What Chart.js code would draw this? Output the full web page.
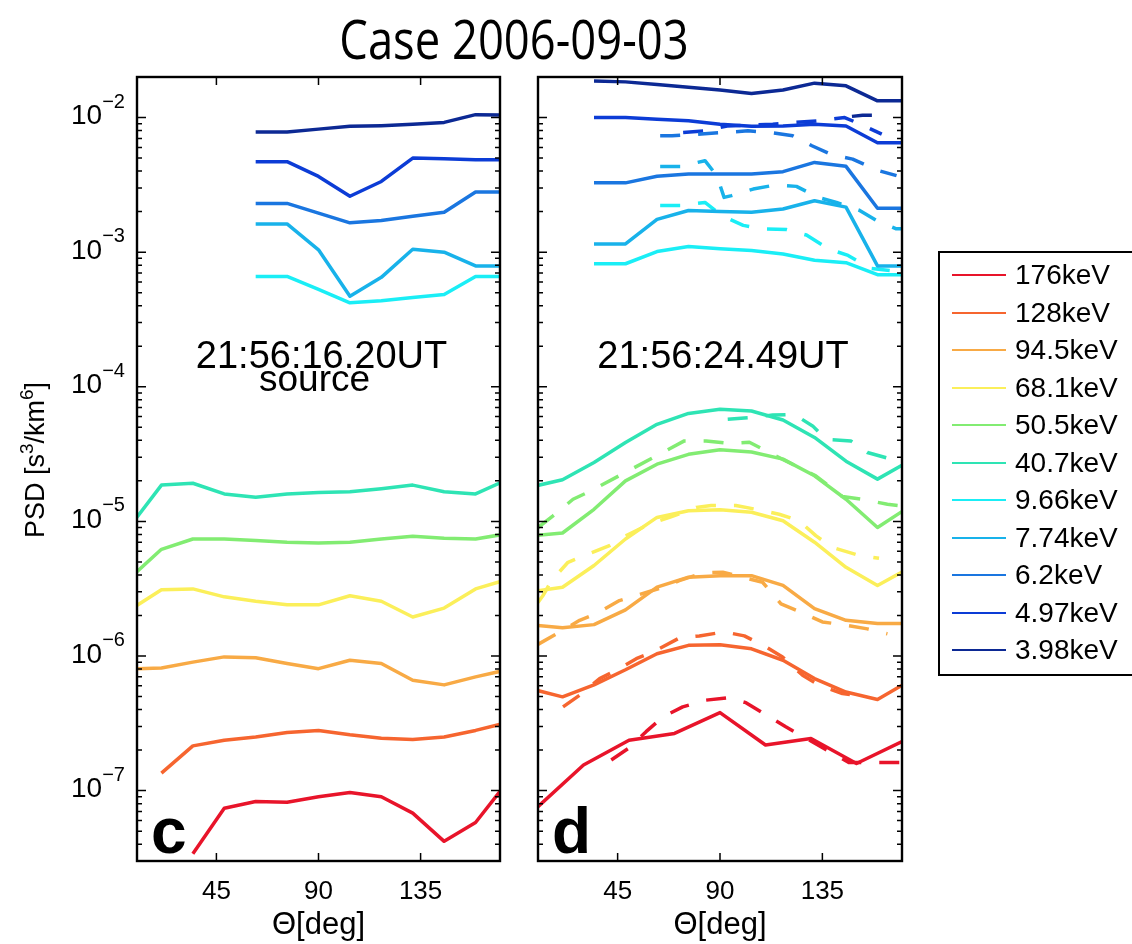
<!DOCTYPE html>
<html>
<head>
<meta charset="utf-8">
<script src="https://cdn.jsdelivr.net/npm/chart.js@4.4.1/dist/chart.umd.min.js"></script>
<style>
  body { margin: 0; background: #fff; width: 1132px; height: 944px; overflow: hidden; position: relative; font-family: "Liberation Sans", Arial, sans-serif; }
  #title { position: absolute; left: 0; width: 1028px; top: 8px; text-align: center; font-size: 54px; line-height: 60px; font-family: "Open Sans", sans-serif; transform: scaleX(0.84); transform-origin: 514px 0; }
  canvas { position: absolute; top: 0; }
  #legend { position: absolute; left: 938px; top: 251px; width: 230px; height: 425px; border: 2px solid #000; box-sizing: border-box; }
  .row { position: absolute; left: 12px; height: 38px; line-height: 38px; font-size: 28px; white-space: nowrap; padding-left: 63px; }
  .row span { position: absolute; left: 0; top: 18px; width: 54px; height: 2px; }
</style>
</head>
<body>
<div id="title">Case 2006-09-03</div>
<canvas id="panelC" width="520" height="944" style="left:0"></canvas>
<canvas id="panelD" width="420" height="944" style="left:520px"></canvas>
<div id="legend"></div>
<script>
// energy channels, same order as the legend
const energies = ["176keV", "128keV", "94.5keV", "68.1keV", "50.5keV", "40.7keV",
                  "9.66keV", "7.74keV", "6.2keV", "4.97keV", "3.98keV"];
const lineColors = ["#e8142a", "#f6652f", "#f8aa45", "#fbef5a", "#82ec72", "#2ee4b4",
                    "#1aeef6", "#18b2ea", "#1a76e0", "#0c3cd6", "#0c2994"];

// pitch angle bins (deg)
const angles13 = [6.92, 20.77, 34.62, 48.46, 62.31, 76.15, 90, 103.85, 117.69, 131.54, 145.38, 159.23, 173.08];
const angles9 = [10, 30, 50, 70, 90, 110, 130, 150, 170];

// axis ticks
const xTicks = [45, 90, 135];
const yTickExps = [-7, -6, -5, -4, -3, -2];
const yMin = 3.1e-8, yMax = 2.0e-2;

// panel c : source, 21:56:16.20UT
const c176 = [null, null, 3.4e-8, 7.4e-8, 8.3e-8, 8.2e-8, 9.0e-8, 9.7e-8, 9.0e-8, 6.8e-8, 4.2e-8, 5.8e-8, 1.15e-7];
const c128 = [null, 1.35e-7, 2.15e-7, 2.37e-7, 2.5e-7, 2.7e-7, 2.8e-7, 2.6e-7, 2.45e-7, 2.4e-7, 2.5e-7, 2.8e-7, 3.2e-7];
const c94 = [8.0e-7, 8.15e-7, 9.0e-7, 9.85e-7, 9.7e-7, 8.8e-7, 8.05e-7, 9.3e-7, 8.8e-7, 6.6e-7, 6.1e-7, 7.0e-7, 7.9e-7];
const c68 = [2.2e-6, 3.1e-6, 3.15e-6, 2.75e-6, 2.55e-6, 2.4e-6, 2.4e-6, 2.8e-6, 2.55e-6, 1.95e-6, 2.27e-6, 3.15e-6, 3.7e-6];
const c50 = [3.8e-6, 6.2e-6, 7.4e-6, 7.4e-6, 7.2e-6, 7.0e-6, 6.9e-6, 7.0e-6, 7.4e-6, 7.75e-6, 7.5e-6, 7.4e-6, 8.1e-6];
const c40 = [9.2e-6, 1.86e-5, 1.92e-5, 1.6e-5, 1.51e-5, 1.6e-5, 1.64e-5, 1.66e-5, 1.75e-5, 1.86e-5, 1.66e-5, 1.6e-5, 2.04e-5];
const c966 = [null, null, null, null, 6.6e-4, 6.6e-4, 5.3e-4, 4.2e-4, 4.35e-4, 4.6e-4, 4.85e-4, 6.6e-4, 6.6e-4];
const c774 = [null, null, null, null, 1.62e-3, 1.62e-3, 1.04e-3, 4.7e-4, 6.5e-4, 1.05e-3, 1.0e-3, 7.9e-4, 7.9e-4];
const c62 = [null, null, null, null, 2.3e-3, 2.3e-3, 1.95e-3, 1.65e-3, 1.72e-3, 1.85e-3, 1.98e-3, 2.8e-3, 2.8e-3];
const c497 = [null, null, null, null, 4.7e-3, 4.7e-3, 3.65e-3, 2.6e-3, 3.35e-3, 5.0e-3, 4.95e-3, 4.85e-3, 4.85e-3];
const c398 = [null, null, null, null, 7.8e-3, 7.8e-3, 8.2e-3, 8.6e-3, 8.7e-3, 8.9e-3, 9.2e-3, 1.05e-2, 1.04e-2];

// panel d : measured, 21:56:24.49UT (176keV uses the 9 bins)
const d176 = [7.6e-8, 1.55e-7, 2.37e-7, 2.66e-7, 3.8e-7, 2.18e-7, 2.44e-7, 1.59e-7, 2.31e-7];
const d128 = [5.7e-7, 4.97e-7, 6.1e-7, 7.9e-7, 1.04e-6, 1.2e-6, 1.21e-6, 1.13e-6, 9.3e-7, 6.8e-7, 5.4e-7, 4.75e-7, 6.5e-7];
const d94 = [1.7e-6, 1.62e-6, 1.71e-6, 2.2e-6, 3.25e-6, 3.85e-6, 3.95e-6, 3.95e-6, 3.35e-6, 2.25e-6, 1.84e-6, 1.74e-6, 1.74e-6];
const d68 = [3.0e-6, 3.24e-6, 4.7e-6, 7.4e-6, 1.07e-5, 1.2e-5, 1.22e-5, 1.17e-5, 1.01e-5, 7.0e-6, 4.56e-6, 3.34e-6, 4.5e-6];
const d50 = [7.8e-6, 8.2e-6, 1.23e-5, 2.0e-5, 2.66e-5, 3.15e-5, 3.4e-5, 3.28e-5, 2.9e-5, 2.18e-5, 1.46e-5, 9.0e-6, 1.28e-5];
const d40 = [1.8e-5, 2.04e-5, 2.74e-5, 3.85e-5, 5.26e-5, 6.34e-5, 6.8e-5, 6.6e-5, 5.66e-5, 4.2e-5, 2.8e-5, 2.06e-5, 2.8e-5];
const d966 = [null, null, 8.2e-4, 8.2e-4, 1.01e-3, 1.1e-3, 1.06e-3, 1.03e-3, 9.7e-4, 8.7e-4, 8.35e-4, 6.8e-4, 6.8e-4];
const d774 = [null, null, 1.15e-3, 1.15e-3, 1.75e-3, 2.04e-3, 2.0e-3, 1.98e-3, 2.09e-3, 2.41e-3, 2.16e-3, 7.9e-4, 7.9e-4];
const d62 = [null, null, 3.27e-3, 3.27e-3, 3.66e-3, 3.8e-3, 3.8e-3, 3.8e-3, 3.96e-3, 4.64e-3, 4.34e-3, 2.12e-3, 2.12e-3];
const d497 = [null, null, 1.0e-2, 1.0e-2, 9.7e-3, 9.45e-3, 8.9e-3, 8.6e-3, 8.65e-3, 8.9e-3, 8.65e-3, 6.5e-3, 6.5e-3];
const d398 = [null, null, 1.87e-2, 1.84e-2, 1.76e-2, 1.68e-2, 1.6e-2, 1.51e-2, 1.6e-2, 1.8e-2, 1.72e-2, 1.33e-2, 1.33e-2];

// panel d dashed curves (angles)
const mAng176 = [42.2, 49.7, 57.5, 64.9, 73.6, 83.9, 93.4, 101.4, 118.9, 146.6, 155.4, 170];
const m176 = [1.69e-7, 2.06e-7, 2.74e-7, 3.53e-7, 4.19e-7, 4.7e-7, 4.9e-7, 4.5e-7, 2.98e-7, 1.62e-7, 1.62e-7, 1.62e-7];
const mAng128 = [21.0, 28.3, 37.1, 44.4, 53.2, 60.5, 72.1, 80.9, 91.9, 100.7, 110.2, 117.5, 126.3, 133.6, 143.8, 151.8];
const m128 = [4.19e-7, 5.12e-7, 6.79e-7, 7.83e-7, 9.55e-7, 1.07e-6, 1.36e-6, 1.41e-6, 1.51e-6, 1.41e-6, 1.17e-6, 9.84e-7, 7.2e-7, 6.07e-7, 5.26e-7, 5.06e-7];
const mAng94 = [10, 18.1, 28.3, 35.6, 45.8, 53.2, 64.9, 72.1, 82.4, 91.2, 108.7, 116.8, 125.5, 135.0, 143.8, 154.8, 163.6];
const m94 = [1.22e-6, 1.46e-6, 1.84e-6, 2.06e-6, 2.58e-6, 2.81e-6, 3.24e-6, 3.63e-6, 4.14e-6, 4.19e-6, 3.53e-6, 2.44e-6, 2.12e-6, 1.79e-6, 1.71e-6, 1.59e-6, 1.46e-6];
const mAng68 = [10, 12.2, 15.9, 23.2, 31.2, 41.4, 48.8, 59.0, 67.8, 79.5, 86.1, 97.0, 105.8, 116.0, 124.8, 132.1, 139.4, 150.4, 159.9];
const m68 = [2.5e-6, 2.81e-6, 3.63e-6, 4.97e-6, 5.63e-6, 6.6e-6, 7.83e-6, 9.55e-6, 1.07e-5, 1.27e-5, 1.31e-5, 1.31e-5, 1.23e-5, 1.13e-5, 1.01e-5, 7.83e-6, 6.41e-6, 5.63e-6, 5.32e-6];
const mAng50 = [10, 16.6, 25.4, 33.4, 74.3, 83.9, 94.1, 102.9, 114.6, 132.1, 143.8, 153.3, 163.6, 170];
const m50 = [9.0e-6, 1.1e-5, 1.46e-5, 1.69e-5, 3.96e-5, 3.96e-5, 3.8e-5, 3.87e-5, 3.06e-5, 2.18e-5, 1.53e-5, 1.45e-5, 1.34e-5, 1.3e-5];
const mAng40 = [93.4, 102.9, 113.1, 122.6, 130.7, 136.5, 147.5, 154.8, 164.3, 170];
const m40 = [5.73e-5, 5.89e-5, 6.16e-5, 6.23e-5, 5.12e-5, 4.07e-5, 3.96e-5, 3.25e-5, 2.93e-5, 3.06e-5];
const mAng966 = [63.7, 72.5, 83.4, 90.7, 100.2, 109.0, 119.3, 128.0, 137.5, 146.3, 155.8, 164.6];
const m966 = [2.22e-3, 2.22e-3, 2.34e-3, 1.87e-3, 1.58e-3, 1.49e-3, 1.47e-3, 1.34e-3, 1.06e-3, 9.45e-4, 7.6e-4, 7.3e-4];
const mAng774 = [63.7, 72.5, 83.4, 88.6, 91.8, 95.1, 104.6, 114.1, 123.6, 133.1, 141.2, 151.4, 158.7, 167.5, 170];
const m774 = [4.33e-3, 4.33e-3, 4.78e-3, 3.7e-3, 2.55e-3, 2.63e-3, 2.94e-3, 3.15e-3, 3.08e-3, 2.55e-3, 2.34e-3, 2.04e-3, 1.72e-3, 1.49e-3, 1.49e-3];
const mAng62 = [63.7, 68.9, 102.3, 111.9, 122.0, 130.4, 139.6, 148.3, 158.9, 167.6];
const m62 = [7.31e-3, 7.31e-3, 7.96e-3, 7.74e-3, 7.31e-3, 6.17e-3, 5.26e-3, 4.91e-3, 4.07e-3, 3.7e-3];
const mAng497 = [73.8, 83.4, 93.1, 113.2, 122.0, 133.0, 144.8, 152.7, 161.1];
const m497 = [7.74e-3, 7.96e-3, 8.66e-3, 8.92e-3, 9.18e-3, 9.45e-3, 1.0e-2, 8.77e-3, 7.53e-3];
const mAng398 = [148.0, 152.7, 162.4];
const m398 = [1.02e-2, 1.04e-2, 1.04e-2];

const panelC = [c176, c128, c94, c68, c50, c40, c966, c774, c62, c497, c398];
const panelD = [d176, d128, d94, d68, d50, d40, d966, d774, d62, d497, d398];
const dashAng = [mAng176, mAng128, mAng94, mAng68, mAng50, mAng40, mAng966, mAng774, mAng62, mAng497, mAng398];
const dashVal = [m176, m128, m94, m68, m50, m40, m966, m774, m62, m497, m398];

function pts(ang, vals) {
    return ang.map((a, i) => ({ x: a, y: vals[i] }));
}

function lineSet(i, ang, vals, dashed) {
    return {
        label: energies[i] + (dashed ? " mapped" : ""),
        data: pts(ang, vals),
        borderColor: lineColors[i],
        borderWidth: 3.5,
        borderDash: dashed ? [20, 18] : [],
        borderCapStyle: "butt",
        borderJoinStyle: "round",
        pointRadius: 0,
        tension: 0,
        fill: false,
        clip: 0,
    };
}

// box, inward ticks and all axis text
const frame = {
    id: "frame",
    afterDraw(chart, args, o) {
        const ctx = chart.ctx, a = chart.chartArea;
        const xs = chart.scales.x, ys = chart.scales.y;
        ctx.save();
        ctx.strokeStyle = "#000";
        ctx.fillStyle = "#000";
        ctx.lineWidth = 1.5;
        ctx.beginPath();
        xTicks.forEach(v => {
            const px = xs.getPixelForValue(v);
            ctx.moveTo(px, a.bottom); ctx.lineTo(px, a.bottom - 8);
            ctx.moveTo(px, a.top); ctx.lineTo(px, a.top + 8);
        });
        for (let e = -8; e <= -2; e++) {
            for (let m = 1; m <= 9; m++) {
                const v = m * Math.pow(10, e);
                if (v <= yMin || v >= yMax) continue;
                const py = ys.getPixelForValue(v);
                const len = m === 1 ? 9 : 5;
                ctx.moveTo(a.left, py); ctx.lineTo(a.left + len, py);
                ctx.moveTo(a.right, py); ctx.lineTo(a.right - len, py);
            }
        }
        ctx.stroke();
        ctx.lineWidth = 2.4;
        ctx.strokeRect(a.left, a.top, a.right - a.left, a.bottom - a.top);

        // x tick labels and x label
        ctx.font = '26px "Liberation Sans"';
        ctx.textAlign = "center";
        ctx.textBaseline = "middle";
        xTicks.forEach(v => ctx.fillText(String(v), xs.getPixelForValue(v), 892));
        ctx.textBaseline = "alphabetic";
        ctx.font = '31px "Liberation Sans"';
        ctx.fillText("\u0398[deg]", xs.getPixelForValue(90), 934);

        if (o.yLabels) {
            yTickExps.forEach(e => {
                const py = ys.getPixelForValue(Math.pow(10, e));
                ctx.textAlign = "left";
                ctx.textBaseline = "middle";
                ctx.font = '28px "Liberation Sans"';
                ctx.fillText("10", 71, py - 1);
                const w = ctx.measureText("10").width;
                ctx.font = '20px "Liberation Sans"';
                ctx.textBaseline = "alphabetic";
                ctx.fillText("\u2212" + (-e), 71 + w, py - 10);
            });
            // rotated y label with superscripts
            const parts = [["PSD [s", 27, 0], ["3", 19, -11], ["/km", 27, 0], ["6", 19, -11], ["]", 27, 0]];
            ctx.save();
            ctx.translate(44, 460);
            ctx.rotate(-Math.PI / 2);
            let total = 0;
            parts.forEach(p => { ctx.font = p[1] + 'px "Liberation Sans"'; total += ctx.measureText(p[0]).width; });
            let x = -total / 2;
            ctx.textAlign = "left";
            parts.forEach(p => {
                ctx.font = p[1] + 'px "Liberation Sans"';
                ctx.fillText(p[0], x, p[2]);
                x += ctx.measureText(p[0]).width;
            });
            ctx.restore();
        }

        // time stamp and panel letter
        const cx = (a.left + a.right) / 2;
        ctx.textAlign = "center";
        ctx.textBaseline = "alphabetic";
        ctx.font = '38px "Liberation Sans"';
        ctx.fillText(o.time, cx + 3, 368);
        if (o.sub) {
            ctx.font = '37px "Liberation Sans"';
            ctx.fillText(o.sub, cx - 4, 391);
        }
        ctx.textAlign = "left";
        ctx.font = 'bold 64px "Liberation Sans"';
        ctx.fillText(o.tag, a.left + 14, a.bottom - 8);
        ctx.restore();
    }
};

function makeChart(id, datasets, pad, opts) {
    return new Chart(document.getElementById(id), {
        type: "line",
        data: { datasets: datasets },
        options: {
            responsive: false,
            animation: false,
            events: [],
            layout: { padding: pad },
            scales: {
                x: { type: "linear", min: 10, max: 170, display: false },
                y: { type: "logarithmic", min: yMin, max: yMax, display: false },
            },
            plugins: { legend: { display: false }, tooltip: { enabled: false }, frame: opts },
        },
        plugins: [frame],
    });
}

// panel c
const setsC = panelC.map((vals, i) => lineSet(i, angles13, vals, false));
makeChart("panelC", setsC, { left: 137, right: 20, top: 77, bottom: 83 },
    { yLabels: true, time: "21:56:16.20UT", sub: "source", tag: "c" });

// panel d: solid first so they are drawn on top of the dashed ones
const setsD = panelD.map((vals, i) => lineSet(i, i === 0 ? angles9 : angles13, vals, false))
    .concat(dashVal.map((vals, i) => lineSet(i, dashAng[i], vals, true)));
makeChart("panelD", setsD, { left: 18, right: 38, top: 77, bottom: 83 },
    { yLabels: false, time: "21:56:24.49UT", sub: "", tag: "d" });

// legend
const legend = document.getElementById("legend");
energies.forEach((name, i) => {
    const row = document.createElement("div");
    row.className = "row";
    row.style.top = Math.round(3 + i * 37.5) + "px";
    row.innerHTML = '<span style="background:' + lineColors[i] + '"></span>' + name;
    legend.appendChild(row);
});
</script>
</body>
</html>
